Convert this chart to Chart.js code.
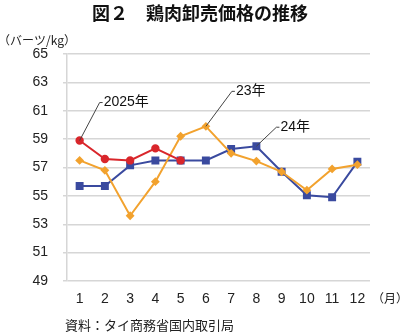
<!DOCTYPE html>
<html>
<head>
<meta charset="utf-8">
<script src="https://cdn.jsdelivr.net/npm/chart.js@4"></script>
<style>
    html, body { margin: 0; padding: 0; background: #fff; }
    #wrap { width: 400px; height: 332px; position: relative; }
</style>
</head>
<body>
<div id="wrap"><canvas id="chart"></canvas></div>
<script>
const months = ['1', '2', '3', '4', '5', '6', '7', '8', '9', '10', '11', '12'];
const y2025 = [58.9, 57.6, 57.5, 58.35, 57.5, null, null, null, null, null, null, null];
const y2023 = [57.5, 56.8, 53.6, 56.0, 59.2, 59.9, 58.0, 57.45, 56.7, 55.4, 56.9, 57.2];
const y2024 = [55.7, 55.7, 57.15, 57.5, 57.5, 57.5, 58.3, 58.5, 56.7, 55.05, 54.9, 57.4];
const yTicks = [49, 51, 53, 55, 57, 59, 61, 63, 65];

const FONT = '"Liberation Sans", "Noto Sans CJK JP", sans-serif';
const JP = '"Noto Sans CJK JP", sans-serif';

// leader labels: dataset index, point index, offset of text end, text
const callouts = [
    { ds: 0, idx: 0, dx: 20, dy: -38, text: '2025年' },
    { ds: 1, idx: 5, dx: 26, dy: -35, text: '23年' },
    { ds: 2, idx: 7, dx: 20, dy: -19, text: '24年' }
];

const extras = {
    id: 'extras',
    afterDraw(c) {
        const ctx = c.ctx;
        ctx.save();
        // title
        ctx.fillStyle = '#111';
        ctx.font = 'bold 18px ' + JP;
        ctx.textAlign = 'center';
        ctx.textBaseline = 'middle';
        ctx.fillText('図２　鶏肉卸売価格の推移', 200, 13);
        // unit
        ctx.font = '12px ' + JP;
        ctx.textAlign = 'left';
        ctx.fillStyle = '#222';
        ctx.fillText('（バーツ/kg）', -2, 40);
        ctx.fillText('（月）', 372, 298);
        // source
        ctx.font = '13px ' + JP;
        ctx.fillText('資料：タイ商務省国内取引局', 65, 325);
        // callouts
        ctx.strokeStyle = '#444';
        ctx.lineWidth = 1;
        ctx.font = '14px ' + FONT;
        ctx.fillStyle = '#111';
        callouts.forEach(o => {
            const pt = c.getDatasetMeta(o.ds).data[o.idx];
            const x2 = pt.x + o.dx, y2 = pt.y + o.dy;
            ctx.beginPath();
            ctx.moveTo(pt.x, pt.y);
            ctx.lineTo(x2, y2);
            ctx.lineTo(x2 + 3, y2);
            ctx.stroke();
            ctx.fillText(o.text, x2 + 4, y2);
        });
        ctx.restore();
    }
};

new Chart(document.getElementById('chart'), {
    type: 'line',
    data: {
        labels: months,
        datasets: [
            {
                label: '2025年', data: y2025, borderColor: '#d9262b', backgroundColor: '#d9262b',
                borderWidth: 2, pointStyle: 'circle', pointRadius: 3.2, tension: 0
            },
            {
                label: '23年', data: y2023, borderColor: '#f2a22e', backgroundColor: '#f2a22e',
                borderWidth: 2, pointStyle: 'rectRot', pointRadius: 3, tension: 0
            },
            {
                label: '24年', data: y2024, borderColor: '#3a4a9f', backgroundColor: '#3a4a9f',
                borderWidth: 2, pointStyle: 'rect', pointRadius: 4.2, tension: 0
            }
        ]
    },
    options: {
        responsive: true,
        maintainAspectRatio: false,
        animation: false,
        layout: { padding: { left: 0, right: 30, top: 54, bottom: 21 } },
        plugins: { legend: { display: false }, tooltip: { enabled: false } },
        scales: {
            x: {
                offset: true,
                grid: { display: false, drawTicks: false },
                border: { display: false },
                ticks: { color: '#222', font: { size: 14, family: FONT }, padding: 10, maxRotation: 0 },
                afterFit: s => { s.height = 30; }
            },
            y: {
                min: 49, max: 65,
                afterBuildTicks: s => { s.ticks = yTicks.map(v => ({ value: v })); },
                grid: { color: '#d6d6d6', lineWidth: 1.5, tickLength: 4 },
                border: { color: '#d6d6d6', width: 1.5 },
                ticks: { color: '#222', font: { size: 14, family: FONT }, padding: 15 },
                afterFit: s => { s.width = 67; }
            }
        }
    },
    plugins: [extras]
});
</script>
</body>
</html>
